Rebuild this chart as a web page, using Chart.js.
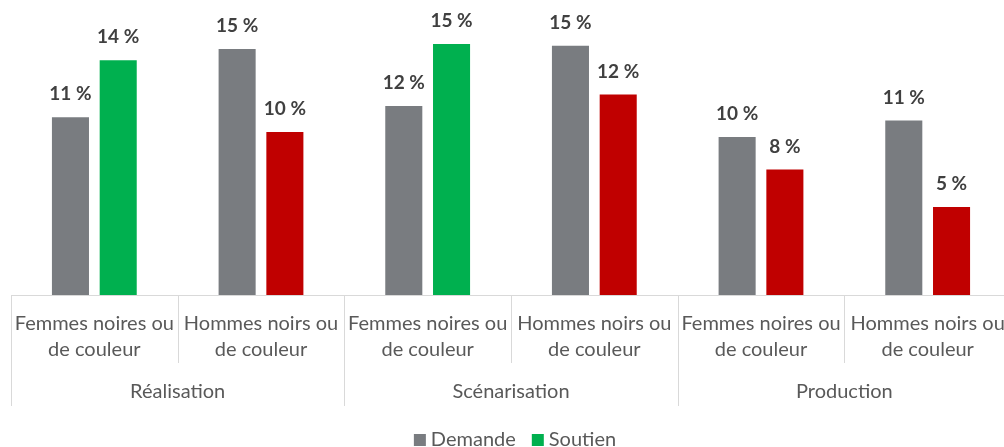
<!DOCTYPE html>
<html lang="fr">
<head>
<meta charset="utf-8">
<title>Demande et soutien</title>
<script src="https://cdn.jsdelivr.net/npm/chart.js@4/dist/chart.umd.min.js"></script>
<style>
    html, body { margin: 0; padding: 0; background: #fff; overflow: hidden; }
    .chart-box { position: absolute; left: 0; top: 0; width: 1011px; height: 447px; }
</style>
</head>
<body>
<div class="chart-box"><canvas id="soutienChart"></canvas></div>
<script>
// Données (en %)
const categories = [
    ['Femmes noires ou', 'de couleur'],
    ['Hommes noirs ou', 'de couleur'],
    ['Femmes noires ou', 'de couleur'],
    ['Hommes noirs ou', 'de couleur'],
    ['Femmes noires ou', 'de couleur'],
    ['Hommes noirs ou', 'de couleur']
];
const groupes = ['Réalisation', 'Scénarisation', 'Production'];
const demande = [10.9, 15.1, 11.6, 15.3, 9.7, 10.7];
const soutien = [14.4, 10.0, 15.4, 12.3, 7.7, 5.4];

// Couleurs
const gris = '#797c80';
const vert = '#00b04f';
const rouge = '#c00000';
const couleursSoutien = [vert, rouge, vert, rouge, rouge, rouge];
const couleurLigne = '#d9d9d9';
const couleurTexte = '#595959';

const police = 'Lato, "Open Sans", sans-serif';

// Étiquettes, séparateurs et légende dessinés à la main
const decorPlugin = {
    id: 'decor',
    afterDatasetsDraw(chart) {
        const ctx = chart.ctx;
        const x = chart.scales.x;
        const area = chart.chartArea;
        const half = (x.getPixelForValue(1) - x.getPixelForValue(0)) / 2;

        // Valeurs au-dessus des barres
        ctx.save();
        ctx.font = 'bold 19px ' + police;
        ctx.fillStyle = '#404040';
        ctx.textAlign = 'center';
        ctx.textBaseline = 'alphabetic';
        chart.data.datasets.forEach((ds, di) => {
            const meta = chart.getDatasetMeta(di);
            meta.data.forEach((bar, i) => {
                ctx.fillText(Math.round(ds.data[i]) + ' %', bar.x, bar.y - 17);
            });
        });
        ctx.restore();

        // Axe horizontal
        ctx.save();
        ctx.strokeStyle = couleurLigne;
        ctx.lineWidth = 1;
        ctx.beginPath();
        ctx.moveTo(area.left, area.bottom + 0.5);
        ctx.lineTo(area.right, area.bottom + 0.5);
        ctx.stroke();

        // Séparateurs verticaux
        for (let i = 0; i <= categories.length; i++) {
            const px = Math.round(x.getPixelForValue(i) - half) + 0.5;
            const bas = (i % 2 === 0) ? 406 : 363;
            ctx.beginPath();
            ctx.moveTo(px, area.bottom);
            ctx.lineTo(px, bas);
            ctx.stroke();
        }
        ctx.restore();

        // Libellés des catégories
        ctx.save();
        ctx.font = '20px ' + police;
        ctx.fillStyle = couleurTexte;
        ctx.textAlign = 'center';
        categories.forEach((lignes, i) => {
            const cx = x.getPixelForValue(i);
            lignes.forEach((txt, j) => {
                ctx.fillText(txt, cx, 330 + j * 26);
            });
        });

        // Libellés des groupes
        groupes.forEach((g, k) => {
            const cx = (x.getPixelForValue(k * 2) + x.getPixelForValue(k * 2 + 1)) / 2;
            ctx.fillText(g, cx, 398);
        });
        ctx.restore();

        // Légende
        ctx.save();
        ctx.font = '20px ' + police;
        ctx.textAlign = 'left';
        const items = [
            { label: 'Demande', color: gris },
            { label: 'Soutien', color: vert }
        ];
        const carre = 12;
        const ecart = 5;
        const entre = 16;
        let total = 0;
        items.forEach((it, i) => {
            total += carre + ecart + ctx.measureText(it.label).width;
            if (i < items.length - 1) total += entre;
        });
        let lx = 515 - total / 2;
        items.forEach(it => {
            ctx.fillStyle = it.color;
            ctx.fillRect(lx, 434, carre, carre);
            lx += carre + ecart;
            ctx.fillStyle = couleurTexte;
            ctx.fillText(it.label, lx, 446);
            lx += ctx.measureText(it.label).width + entre;
        });
        ctx.restore();
    }
};

function initialiserGraphique() {
    const ctx = document.getElementById('soutienChart').getContext('2d');
    new Chart(ctx, {
        type: 'bar',
        data: {
            labels: categories,
            datasets: [{
                label: 'Demande',
                data: demande,
                backgroundColor: gris,
                borderWidth: 0
            }, {
                label: 'Soutien',
                data: soutien,
                backgroundColor: couleursSoutien,
                borderWidth: 0
            }]
        },
        options: {
            responsive: true,
            maintainAspectRatio: false,
            animation: false,
            datasets: {
                bar: {
                    categoryPercentage: 0.573,
                    barPercentage: 0.776
                }
            },
            layout: {
                padding: { left: 11, right: 0, top: 0, bottom: 152 }
            },
            plugins: {
                legend: { display: false },
                tooltip: { enabled: false }
            },
            scales: {
                x: { display: false },
                y: { display: false, min: 0, max: 18.1 }
            }
        },
        plugins: [decorPlugin]
    });
}

document.addEventListener('DOMContentLoaded', initialiserGraphique);
</script>
</body>
</html>
